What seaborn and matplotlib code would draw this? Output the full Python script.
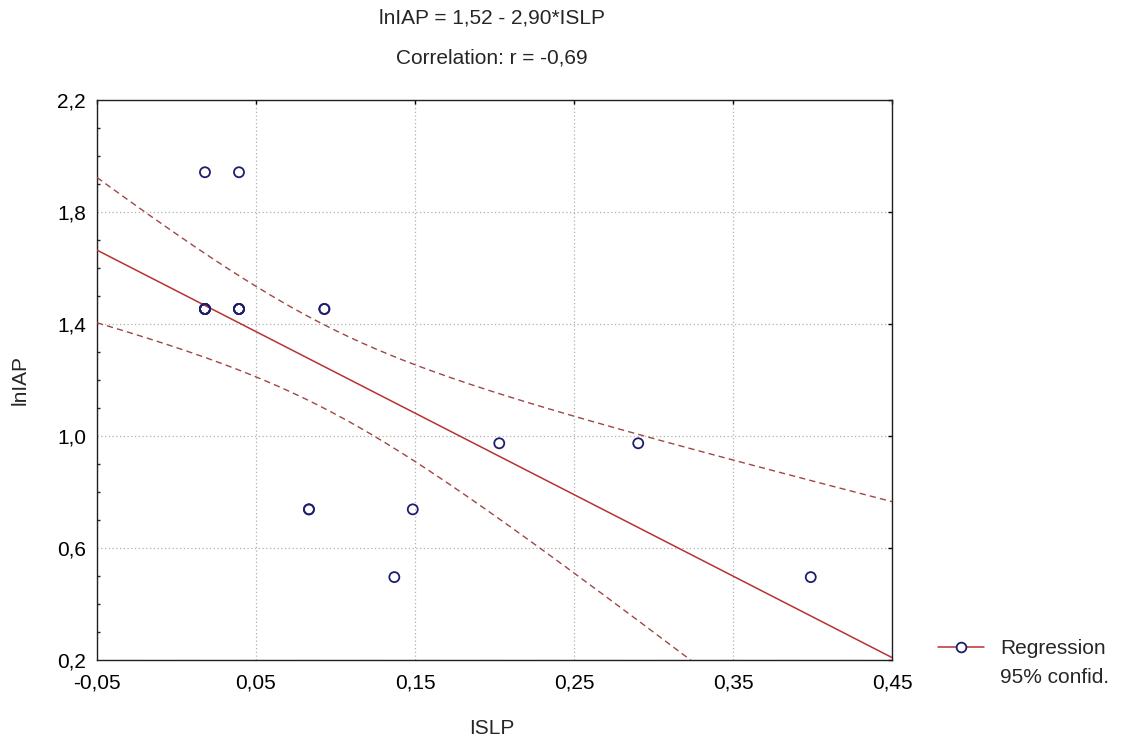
import numpy as np
import pandas as pd
import matplotlib
matplotlib.use("Agg")
import matplotlib.pyplot as plt
import seaborn as sns
from matplotlib.ticker import FixedLocator, MultipleLocator, FuncFormatter, NullLocator
from matplotlib.lines import Line2D

# ---- data (overlapping points counted several times) ----
islp = [0.0179, 0.0393,
        0.0179, 0.0179, 0.0179, 0.0179, 0.0179,
        0.0393, 0.0393, 0.0393, 0.0393,
        0.0930, 0.0930,
        0.0833, 0.0833,
        0.1486, 0.1370, 0.2030, 0.2904, 0.3989]
lniap = [1.942, 1.942,
         1.4536, 1.4536, 1.4536, 1.4536, 1.4536,
         1.4536, 1.4536, 1.4536, 1.4536,
         1.4536, 1.4536,
         0.738, 0.738,
         0.738, 0.496, 0.974, 0.974, 0.496]
x_ticks = [-0.05, 0.05, 0.15, 0.25, 0.35, 0.45]
y_ticks = [0.2, 0.6, 1.0, 1.4, 1.8, 2.2]
title_lines = ["lnIAP = 1,52 - 2,90*ISLP", "Correlation: r = -0,69"]
x_label = "ISLP"
y_label = "lnIAP"
legend_labels = ["Regression", "95% confid."]
T975 = 2.101  # Student t, 0.975 quantile, df = n - 2 = 18

df = pd.DataFrame({"ISLP": islp, "lnIAP": lniap})

sns.set_style("white")
FAM = ["Liberation Sans", "DejaVu Sans"]
FS = 15
plt.rcParams["font.family"] = FAM
plt.rcParams["font.size"] = FS

fig = plt.figure(figsize=(11.25, 7.4), dpi=100)
ax = fig.add_axes([97 / 1125, 1 - 660 / 740, 795 / 1125, 560 / 740])
ax.set_xlim(x_ticks[0], x_ticks[-1])
ax.set_ylim(y_ticks[0], y_ticks[-1])

RED = "#b83232"
DASH = "#a04646"
NAVY = "#1e1e6e"

# regression line across the full axis
sns.regplot(data=df, x="ISLP", y="lnIAP", ax=ax, scatter=False, ci=None,
            truncate=False, line_kws=dict(color=RED, lw=1.1, zorder=3))

# 95% confidence band of the fitted line
x = df["ISLP"].to_numpy()
y = df["lnIAP"].to_numpy()
n = len(x)
b1, b0 = np.polyfit(x, y, 1)
res = y - (b0 + b1 * x)
s = np.sqrt((res ** 2).sum() / (n - 2))
xm = x.mean()
sxx = ((x - xm) ** 2).sum()
xx = np.linspace(x_ticks[0], x_ticks[-1], 300)
fit = b0 + b1 * xx
se = s * np.sqrt(1 / n + (xx - xm) ** 2 / sxx)
for sign in (1, -1):
    ax.plot(xx, fit + sign * T975 * se, color=DASH, lw=1.0,
            linestyle=(0, (4.5, 3)), zorder=3)

# points
sns.scatterplot(data=df, x="ISLP", y="lnIAP", ax=ax, marker="o", s=52,
                facecolors="none", edgecolor=NAVY, linewidth=1.3, zorder=4,
                legend=False)

# axes styling
ax.xaxis.set_major_locator(FixedLocator(x_ticks))
ax.yaxis.set_major_locator(FixedLocator(y_ticks))
ax.xaxis.set_minor_locator(NullLocator())
ax.yaxis.set_minor_locator(MultipleLocator(0.1))
ax.xaxis.set_major_formatter(FuncFormatter(lambda v, p: f"{v:.2f}".replace(".", ",")))
ax.yaxis.set_major_formatter(FuncFormatter(lambda v, p: f"{v:.1f}".replace(".", ",")))
ax.tick_params(which="major", direction="in", length=3, width=1, top=True, right=True,
               labelsize=FS, colors="#000000")
ax.tick_params(axis="x", which="major", pad=10)
ax.tick_params(axis="y", which="major", pad=8)
ax.tick_params(which="minor", direction="in", length=2.5, width=1, left=True,
               right=False, top=False, bottom=False)
ax.grid(True, which="major", linestyle=(0, (1, 2)), color="#b0b0b0", lw=0.9)
for sp in ax.spines.values():
    sp.set_color("#202020")
    sp.set_linewidth(1.0)
ax.set_xlabel("")
ax.set_ylabel("")

fig.text(492 / 1125, 1 - 18 / 740, title_lines[0], ha="center", va="center", fontsize=FS)
fig.text(492 / 1125, 1 - 58 / 740, title_lines[1], ha="center", va="center", fontsize=FS)
fig.text(492 / 1125, 1 - 729 / 740, x_label, ha="center", va="center", fontsize=FS)
fig.text(20 / 1125, 1 - 380 / 740, y_label, ha="center", va="center", rotation=90, fontsize=FS)

handles = [Line2D([], [], color=RED, lw=1.1, marker="o", markersize=7,
                  markerfacecolor="white", markeredgecolor=NAVY, markeredgewidth=1.3),
           Line2D([], [], linestyle="none")]
fig.legend(handles, legend_labels, loc="upper left",
           bbox_to_anchor=(938 / 1125, 1 - 639 / 740), frameon=False,
           handlelength=2.2, handletextpad=0.8, labelspacing=0.5, borderpad=0,
           borderaxespad=0, fontsize=FS)

fig.savefig("out.png", dpi=100)
